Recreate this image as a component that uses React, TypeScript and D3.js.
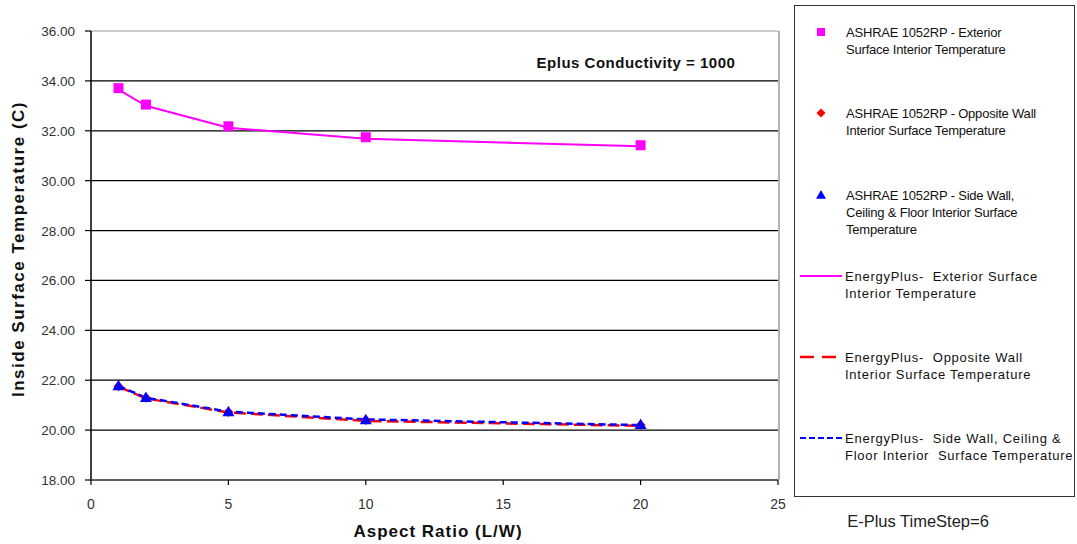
import React from "react";
import * as d3 from "d3";

const aspectRatios = [1, 2, 5, 10, 20];
const ashraeExterior = [33.71, 33.05, 32.18, 31.74, 31.42];
const ashraeOpposite = [21.76, 21.3, 20.73, 20.41, 20.2];
const ashraeSide = [21.78, 21.31, 20.74, 20.42, 20.22];
const eplusExterior = [33.65, 33.0, 32.12, 31.68, 31.38];
const eplusOpposite = [21.74, 21.27, 20.71, 20.37, 20.17];
const eplusSide = [21.77, 21.3, 20.74, 20.43, 20.2];
const xTicks = [0, 5, 10, 15, 20, 25];
const yTicks = [18, 20, 22, 24, 26, 28, 30, 32, 34, 36];

const legendItems = [
  { kind: "square", color: "#ff00ff", lines: ["ASHRAE 1052RP - Exterior", "Surface Interior Temperature"] },
  { kind: "diamond", color: "#ff0000", lines: ["ASHRAE 1052RP - Opposite Wall", "Interior Surface Temperature"] },
  { kind: "triangle", color: "#0000ff", lines: ["ASHRAE 1052RP - Side Wall,", "Ceiling & Floor Interior Surface", "Temperature"] },
  { kind: "solid", color: "#ff00ff", lines: ["EnergyPlus-  Exterior Surface", "Interior Temperature"] },
  { kind: "longdash", color: "#ff0000", lines: ["EnergyPlus-  Opposite Wall", "Interior Surface Temperature"] },
  { kind: "dash", color: "#0000ff", lines: ["EnergyPlus-  Side Wall, Ceiling &", "Floor Interior  Surface Temperature"] },
];
const legendY = [32, 113, 195, 276, 357, 438];

const FONT = "'Liberation Sans', Arial, sans-serif";

export default function App() {
  const W = 1077, H = 544;
  const x = d3.scaleLinear().domain([0, 25]).range([91, 778]);
  const y = d3.scaleLinear().domain([18, 36]).range([480, 31]);
  const line = (vals: number[]) =>
    d3.line<number>().x((_, i) => x(aspectRatios[i])).y((v) => y(v))(vals) || "";

  const sq = (cx: number, cy: number, c: string, s = 10) => (
    <rect x={cx - s / 2} y={cy - s / 2} width={s} height={s} fill={c} />
  );
  const tri = (cx: number, cy: number, c: string, s = 6) => (
    <path d={`M${cx},${cy - s} L${cx + s},${cy + s * 0.75} L${cx - s},${cy + s * 0.75} Z`} fill={c} />
  );
  const dia = (cx: number, cy: number, c: string, s = 5) => (
    <path d={`M${cx},${cy - s} L${cx + s},${cy} L${cx},${cy + s} L${cx - s},${cy} Z`} fill={c} />
  );

  return (
    <svg width={W} height={H} style={{ position: "absolute", left: 0, top: 0, background: "#fff" }} fontFamily={FONT}>
      <rect x={0} y={0} width={W} height={H} fill="#fff" />
      {yTicks.map((t) => (
        <line key={"g" + t} x1={x(0)} x2={x(25)} y1={y(t)} y2={y(t)} stroke={t === 36 ? "#999" : "#000"} strokeWidth={1.2} />
      ))}
      <line x1={x(25) + 1} x2={x(25) + 1} y1={y(36)} y2={y(18)} stroke="#999" strokeWidth={1.5} />
      <line x1={x(0)} x2={x(0)} y1={y(36)} y2={y(18)} stroke="#000" strokeWidth={1.5} />
      <line x1={x(0)} x2={x(25)} y1={y(18)} y2={y(18)} stroke="#555" strokeWidth={1.5} />
      {yTicks.map((t) => (
        <g key={"yt" + t}>
          <line x1={x(0) - 6} x2={x(0)} y1={y(t)} y2={y(t)} stroke="#000" strokeWidth={1.2} />
          <text x={75} y={y(t) + 5} textAnchor="end" fontSize={13.5} fill="#333">{t.toFixed(2)}</text>
        </g>
      ))}
      {xTicks.map((t) => (
        <g key={"xt" + t}>
          <line x1={x(t)} x2={x(t)} y1={y(18)} y2={y(18) + 5} stroke="#000" strokeWidth={1.2} />
          <text x={x(t)} y={509} textAnchor="middle" fontSize={14} fill="#333">{t}</text>
        </g>
      ))}
      <text x={438} y={537} textAnchor="middle" fontSize={17} fontWeight="bold" letterSpacing={1} fill="#111">Aspect Ratio (L/W)</text>
      <text transform={`translate(24,249) rotate(-90)`} textAnchor="middle" fontSize={17} fontWeight="bold" letterSpacing={1.5} fill="#111">
        Inside Surface Temperature (C)
      </text>
      <text x={636} y={68} textAnchor="middle" fontSize={15} fontWeight="bold" letterSpacing={0.5} fill="#111">Eplus Conductivity = 1000</text>

      <path d={line(eplusExterior)} fill="none" stroke="#ff00ff" strokeWidth={2} />
      <path d={line(eplusOpposite)} fill="none" stroke="#ff0000" strokeWidth={2.5} strokeDasharray="12,5" />
      <path d={line(eplusSide)} fill="none" stroke="#0000ff" strokeWidth={2.5} strokeDasharray="7,4" />
      {aspectRatios.map((a, i) => (
        <g key={"m" + a}>
          {sq(x(a), y(ashraeExterior[i]), "#ff00ff")}
          {dia(x(a), y(ashraeOpposite[i]), "#ff0000")}
          {tri(x(a), y(ashraeSide[i]), "#0000ff")}
        </g>
      ))}

      <rect x={794.5} y={5.5} width={280} height={491} fill="#fff" stroke="#333" strokeWidth={1} />
      {legendItems.map((it, k) => {
        const ly = legendY[k];
        const mx = 821;
        const isMarker = it.kind === "square" || it.kind === "diamond" || it.kind === "triangle";
        return (
          <g key={"l" + k}>
            {it.kind === "square" && sq(mx, ly, it.color, 8)}
            {it.kind === "diamond" && dia(mx, ly, it.color, 4.5)}
            {it.kind === "triangle" && tri(mx, ly, it.color, 5)}
            {it.kind === "solid" && <line x1={800} x2={842} y1={ly} y2={ly} stroke={it.color} strokeWidth={2} />}
            {it.kind === "longdash" && <line x1={800} x2={842} y1={ly} y2={ly} stroke={it.color} strokeWidth={2.5} strokeDasharray="14,8" />}
            {it.kind === "dash" && <line x1={800} x2={842} y1={ly} y2={ly} stroke={it.color} strokeWidth={2} strokeDasharray="6,3" />}
            {it.lines.map((s, j) => (
              <text key={j} x={isMarker ? 846 : 845} y={ly + 5 + j * 17} fontSize={13} letterSpacing={isMarker ? -0.2 : 0.75} fill="#111" style={{ whiteSpace: "pre" }}>
                {s}
              </text>
            ))}
          </g>
        );
      })}
      <text x={918} y={527} textAnchor="middle" fontSize={16.5} fill="#222">E-Plus TimeStep=6</text>
    </svg>
  );
}
